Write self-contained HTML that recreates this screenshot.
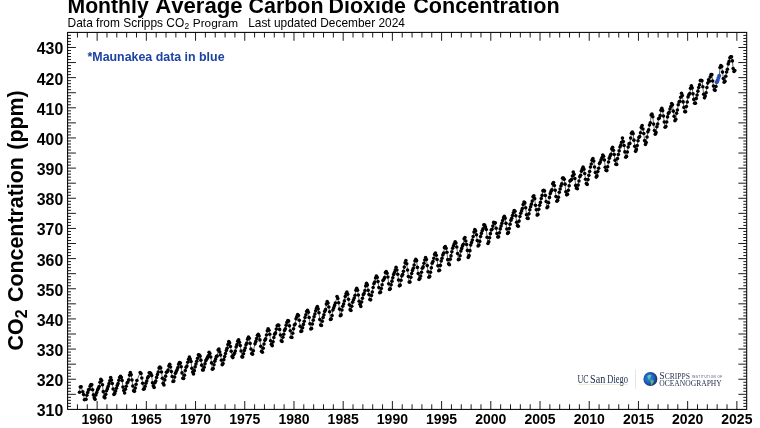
<!DOCTYPE html>
<html lang="en"><head><meta charset="utf-8"><title>Monthly Average Carbon Dioxide Concentration</title>
<style>html,body{margin:0;padding:0;background:#fff;overflow:hidden}svg{display:block}</style></head>
<body>
<svg width="760" height="428" viewBox="0 0 760 428">
<rect width="760" height="428" fill="#fff"/>
<path d="M77.44 409.40v-5.1M77.44 32.40v5.1M87.28 409.40v-5.1M87.28 32.40v5.1M97.13 409.40v-8.4M97.13 32.40v8.4M106.97 409.40v-5.1M106.97 32.40v5.1M116.81 409.40v-5.1M116.81 32.40v5.1M126.65 409.40v-5.1M126.65 32.40v5.1M136.49 409.40v-5.1M136.49 32.40v5.1M146.34 409.40v-8.4M146.34 32.40v8.4M156.18 409.40v-5.1M156.18 32.40v5.1M166.02 409.40v-5.1M166.02 32.40v5.1M175.86 409.40v-5.1M175.86 32.40v5.1M185.70 409.40v-5.1M185.70 32.40v5.1M195.55 409.40v-8.4M195.55 32.40v8.4M205.39 409.40v-5.1M205.39 32.40v5.1M215.23 409.40v-5.1M215.23 32.40v5.1M225.07 409.40v-5.1M225.07 32.40v5.1M234.91 409.40v-5.1M234.91 32.40v5.1M244.76 409.40v-8.4M244.76 32.40v8.4M254.60 409.40v-5.1M254.60 32.40v5.1M264.44 409.40v-5.1M264.44 32.40v5.1M274.28 409.40v-5.1M274.28 32.40v5.1M284.12 409.40v-5.1M284.12 32.40v5.1M293.97 409.40v-8.4M293.97 32.40v8.4M303.81 409.40v-5.1M303.81 32.40v5.1M313.65 409.40v-5.1M313.65 32.40v5.1M323.49 409.40v-5.1M323.49 32.40v5.1M333.33 409.40v-5.1M333.33 32.40v5.1M343.18 409.40v-8.4M343.18 32.40v8.4M353.02 409.40v-5.1M353.02 32.40v5.1M362.86 409.40v-5.1M362.86 32.40v5.1M372.70 409.40v-5.1M372.70 32.40v5.1M382.54 409.40v-5.1M382.54 32.40v5.1M392.39 409.40v-8.4M392.39 32.40v8.4M402.23 409.40v-5.1M402.23 32.40v5.1M412.07 409.40v-5.1M412.07 32.40v5.1M421.91 409.40v-5.1M421.91 32.40v5.1M431.76 409.40v-5.1M431.76 32.40v5.1M441.60 409.40v-8.4M441.60 32.40v8.4M451.44 409.40v-5.1M451.44 32.40v5.1M461.28 409.40v-5.1M461.28 32.40v5.1M471.12 409.40v-5.1M471.12 32.40v5.1M480.97 409.40v-5.1M480.97 32.40v5.1M490.81 409.40v-8.4M490.81 32.40v8.4M500.65 409.40v-5.1M500.65 32.40v5.1M510.49 409.40v-5.1M510.49 32.40v5.1M520.33 409.40v-5.1M520.33 32.40v5.1M530.18 409.40v-5.1M530.18 32.40v5.1M540.02 409.40v-8.4M540.02 32.40v8.4M549.86 409.40v-5.1M549.86 32.40v5.1M559.70 409.40v-5.1M559.70 32.40v5.1M569.54 409.40v-5.1M569.54 32.40v5.1M579.39 409.40v-5.1M579.39 32.40v5.1M589.23 409.40v-8.4M589.23 32.40v8.4M599.07 409.40v-5.1M599.07 32.40v5.1M608.91 409.40v-5.1M608.91 32.40v5.1M618.75 409.40v-5.1M618.75 32.40v5.1M628.60 409.40v-5.1M628.60 32.40v5.1M638.44 409.40v-8.4M638.44 32.40v8.4M648.28 409.40v-5.1M648.28 32.40v5.1M658.12 409.40v-5.1M658.12 32.40v5.1M667.96 409.40v-5.1M667.96 32.40v5.1M677.81 409.40v-5.1M677.81 32.40v5.1M687.65 409.40v-8.4M687.65 32.40v8.4M697.49 409.40v-5.1M697.49 32.40v5.1M707.33 409.40v-5.1M707.33 32.40v5.1M717.17 409.40v-5.1M717.17 32.40v5.1M727.02 409.40v-5.1M727.02 32.40v5.1M736.86 409.40v-8.4M736.86 32.40v8.4M67.60 406.38h3.4M746.70 406.38h-3.4M67.60 403.37h3.4M746.70 403.37h-3.4M67.60 400.35h3.4M746.70 400.35h-3.4M67.60 397.34h3.4M746.70 397.34h-3.4M67.60 394.32h8.3M746.70 394.32h-8.3M67.60 391.30h3.4M746.70 391.30h-3.4M67.60 388.29h3.4M746.70 388.29h-3.4M67.60 385.27h3.4M746.70 385.27h-3.4M67.60 382.26h3.4M746.70 382.26h-3.4M67.60 379.24h8.3M746.70 379.24h-8.3M67.60 376.22h3.4M746.70 376.22h-3.4M67.60 373.21h3.4M746.70 373.21h-3.4M67.60 370.19h3.4M746.70 370.19h-3.4M67.60 367.18h3.4M746.70 367.18h-3.4M67.60 364.16h8.3M746.70 364.16h-8.3M67.60 361.14h3.4M746.70 361.14h-3.4M67.60 358.13h3.4M746.70 358.13h-3.4M67.60 355.11h3.4M746.70 355.11h-3.4M67.60 352.10h3.4M746.70 352.10h-3.4M67.60 349.08h8.3M746.70 349.08h-8.3M67.60 346.06h3.4M746.70 346.06h-3.4M67.60 343.05h3.4M746.70 343.05h-3.4M67.60 340.03h3.4M746.70 340.03h-3.4M67.60 337.02h3.4M746.70 337.02h-3.4M67.60 334.00h8.3M746.70 334.00h-8.3M67.60 330.98h3.4M746.70 330.98h-3.4M67.60 327.97h3.4M746.70 327.97h-3.4M67.60 324.95h3.4M746.70 324.95h-3.4M67.60 321.94h3.4M746.70 321.94h-3.4M67.60 318.92h8.3M746.70 318.92h-8.3M67.60 315.90h3.4M746.70 315.90h-3.4M67.60 312.89h3.4M746.70 312.89h-3.4M67.60 309.87h3.4M746.70 309.87h-3.4M67.60 306.86h3.4M746.70 306.86h-3.4M67.60 303.84h8.3M746.70 303.84h-8.3M67.60 300.82h3.4M746.70 300.82h-3.4M67.60 297.81h3.4M746.70 297.81h-3.4M67.60 294.79h3.4M746.70 294.79h-3.4M67.60 291.78h3.4M746.70 291.78h-3.4M67.60 288.76h8.3M746.70 288.76h-8.3M67.60 285.74h3.4M746.70 285.74h-3.4M67.60 282.73h3.4M746.70 282.73h-3.4M67.60 279.71h3.4M746.70 279.71h-3.4M67.60 276.70h3.4M746.70 276.70h-3.4M67.60 273.68h8.3M746.70 273.68h-8.3M67.60 270.66h3.4M746.70 270.66h-3.4M67.60 267.65h3.4M746.70 267.65h-3.4M67.60 264.63h3.4M746.70 264.63h-3.4M67.60 261.62h3.4M746.70 261.62h-3.4M67.60 258.60h8.3M746.70 258.60h-8.3M67.60 255.58h3.4M746.70 255.58h-3.4M67.60 252.57h3.4M746.70 252.57h-3.4M67.60 249.55h3.4M746.70 249.55h-3.4M67.60 246.54h3.4M746.70 246.54h-3.4M67.60 243.52h8.3M746.70 243.52h-8.3M67.60 240.50h3.4M746.70 240.50h-3.4M67.60 237.49h3.4M746.70 237.49h-3.4M67.60 234.47h3.4M746.70 234.47h-3.4M67.60 231.46h3.4M746.70 231.46h-3.4M67.60 228.44h8.3M746.70 228.44h-8.3M67.60 225.42h3.4M746.70 225.42h-3.4M67.60 222.41h3.4M746.70 222.41h-3.4M67.60 219.39h3.4M746.70 219.39h-3.4M67.60 216.38h3.4M746.70 216.38h-3.4M67.60 213.36h8.3M746.70 213.36h-8.3M67.60 210.34h3.4M746.70 210.34h-3.4M67.60 207.33h3.4M746.70 207.33h-3.4M67.60 204.31h3.4M746.70 204.31h-3.4M67.60 201.30h3.4M746.70 201.30h-3.4M67.60 198.28h8.3M746.70 198.28h-8.3M67.60 195.26h3.4M746.70 195.26h-3.4M67.60 192.25h3.4M746.70 192.25h-3.4M67.60 189.23h3.4M746.70 189.23h-3.4M67.60 186.22h3.4M746.70 186.22h-3.4M67.60 183.20h8.3M746.70 183.20h-8.3M67.60 180.18h3.4M746.70 180.18h-3.4M67.60 177.17h3.4M746.70 177.17h-3.4M67.60 174.15h3.4M746.70 174.15h-3.4M67.60 171.14h3.4M746.70 171.14h-3.4M67.60 168.12h8.3M746.70 168.12h-8.3M67.60 165.10h3.4M746.70 165.10h-3.4M67.60 162.09h3.4M746.70 162.09h-3.4M67.60 159.07h3.4M746.70 159.07h-3.4M67.60 156.06h3.4M746.70 156.06h-3.4M67.60 153.04h8.3M746.70 153.04h-8.3M67.60 150.02h3.4M746.70 150.02h-3.4M67.60 147.01h3.4M746.70 147.01h-3.4M67.60 143.99h3.4M746.70 143.99h-3.4M67.60 140.98h3.4M746.70 140.98h-3.4M67.60 137.96h8.3M746.70 137.96h-8.3M67.60 134.94h3.4M746.70 134.94h-3.4M67.60 131.93h3.4M746.70 131.93h-3.4M67.60 128.91h3.4M746.70 128.91h-3.4M67.60 125.90h3.4M746.70 125.90h-3.4M67.60 122.88h8.3M746.70 122.88h-8.3M67.60 119.86h3.4M746.70 119.86h-3.4M67.60 116.85h3.4M746.70 116.85h-3.4M67.60 113.83h3.4M746.70 113.83h-3.4M67.60 110.82h3.4M746.70 110.82h-3.4M67.60 107.80h8.3M746.70 107.80h-8.3M67.60 104.78h3.4M746.70 104.78h-3.4M67.60 101.77h3.4M746.70 101.77h-3.4M67.60 98.75h3.4M746.70 98.75h-3.4M67.60 95.74h3.4M746.70 95.74h-3.4M67.60 92.72h8.3M746.70 92.72h-8.3M67.60 89.70h3.4M746.70 89.70h-3.4M67.60 86.69h3.4M746.70 86.69h-3.4M67.60 83.67h3.4M746.70 83.67h-3.4M67.60 80.66h3.4M746.70 80.66h-3.4M67.60 77.64h8.3M746.70 77.64h-8.3M67.60 74.62h3.4M746.70 74.62h-3.4M67.60 71.61h3.4M746.70 71.61h-3.4M67.60 68.59h3.4M746.70 68.59h-3.4M67.60 65.58h3.4M746.70 65.58h-3.4M67.60 62.56h8.3M746.70 62.56h-8.3M67.60 59.54h3.4M746.70 59.54h-3.4M67.60 56.53h3.4M746.70 56.53h-3.4M67.60 53.51h3.4M746.70 53.51h-3.4M67.60 50.50h3.4M746.70 50.50h-3.4M67.60 47.48h8.3M746.70 47.48h-8.3M67.60 44.46h3.4M746.70 44.46h-3.4M67.60 41.45h3.4M746.70 41.45h-3.4M67.60 38.43h3.4M746.70 38.43h-3.4M67.60 35.42h3.4M746.70 35.42h-3.4" stroke="#000" stroke-width="0.9" fill="none"/>
<rect x="67.6" y="32.4" width="679.10" height="377.00" fill="none" stroke="#000" stroke-width="1.05"/>
<path d="M79.49 392.18L80.31 386.93L81.13 386.78L82.77 391.73L83.59 394.53L84.41 399.75L86.05 399.36L86.87 395.32L87.69 392.60L88.51 389.92L89.33 389.34L90.15 386.15L90.97 384.43L91.79 384.82L92.62 389.68L93.44 394.92L94.26 397.85L95.08 399.36L95.90 394.89L96.72 392.57L97.54 390.04L98.36 388.41L99.18 386.57L100.00 382.20L100.82 379.18L101.64 380.51L102.46 384.79L103.28 391.64L104.10 396.88L104.92 397.85L105.74 394.35L106.56 390.76L107.38 388.65L108.20 386.21L109.02 383.67L109.84 380.87L110.66 377.52L111.48 379.96L112.30 383.55L113.12 388.95L113.94 394.38L114.76 393.39L115.58 391.03L116.40 388.29L117.22 385.48L118.04 383.61L118.86 380.21L119.68 377.52L120.50 376.22L121.32 377.43L122.14 380.45L122.96 387.08L123.78 390.52L124.60 393.05L125.42 389.25L126.24 386.24L127.06 383.07L127.88 382.04L128.70 379.69L129.52 375.11L130.34 372.51L131.16 374.84L131.98 380.05L132.80 386.00L133.62 390.70L134.44 391.36L135.26 388.11L136.08 384.22L136.90 380.57L140.18 372.57L141.01 373.57L141.83 377.97L142.65 383.19L143.47 389.22L144.29 388.71L145.11 386.24L145.93 383.16L146.75 380.99L147.57 377.94L148.39 376.59L149.21 372.85L150.03 372.76L150.85 373.63L151.67 375.62L152.49 382.68L153.31 385.85L154.13 387.41L154.95 382.71L155.77 381.05L156.59 377.40L157.41 374.47L158.23 372.06L159.05 368.11L159.87 367.00L160.69 367.96L161.51 372.03L162.33 378.18L163.15 383.37L163.97 385.00L164.79 379.90L165.61 376.16L166.43 372.24L167.25 371.73L168.07 370.10L168.89 365.97L169.71 364.22L170.53 366.93L171.35 371.61L172.17 376.50L172.99 381.50L173.81 381.08L174.63 377.10L175.45 373.36L176.27 371.55L177.09 369.77L177.91 367.54L178.73 364.13L179.55 362.50L180.37 363.10L181.19 366.78L182.01 372.91L182.83 378.24L183.65 378.52L184.47 375.29L185.29 370.52L186.11 367.24L186.93 365.94L187.75 362.29L188.57 359.18L189.40 357.04L190.22 359.06L191.04 361.54L191.86 368.23L192.68 372.09L193.50 373.90L194.32 370.67L195.14 366.87L195.96 364.04L196.78 361.23L197.60 358.37L198.42 354.75L199.24 354.93L200.06 356.17L200.88 360.15L201.70 365.13L202.52 369.95L203.34 370.04L204.16 367.18L204.98 363.83L205.80 360.66L206.62 359.15L207.44 357.65L208.26 355.81L209.08 352.37L209.90 353.45L210.72 357.07L211.54 362.89L212.36 369.14L213.18 368.53L214.00 364.82L214.82 361.14L215.64 358.88L216.46 356.26L217.28 355.93L218.10 349.95L218.92 348.93L219.74 351.88L220.56 355.02L221.38 360.21L222.20 364.67L223.02 363.59L223.84 359.67L224.66 356.50L225.48 353.54L226.30 350.44L227.12 348.21L227.94 344.62L228.76 341.66L229.58 342.90L230.40 346.52L231.22 351.19L232.04 356.62L232.86 357.62L233.68 354.69L234.50 353.21L235.32 351.10L236.14 346.97L236.96 344.65L237.79 341.15L238.61 339.82L239.43 342.35L240.25 345.58L241.07 350.95L241.89 356.86L242.71 357.04L243.53 353.78L244.35 350.41L245.17 347.93L245.99 344.86L246.81 342.99L247.63 339.16L248.45 337.17L249.27 338.28L250.09 343.41L250.91 348.93L251.73 353.45L252.55 354.15L253.37 350.68L255.01 343.86L255.83 341.42L256.65 338.58L257.47 335.33L258.29 334.42L259.11 336.05L259.93 339.91L260.75 346.31L261.57 351.22L262.39 352.31L263.21 348.21L264.03 344.04L264.85 340.33L265.67 338.86L266.49 334.97L267.31 330.83L268.13 328.81L268.95 330.23L269.77 334.27L270.59 340.82L271.41 344.34L272.23 345.67L273.05 341.87L273.87 337.53L274.69 334.15L275.51 332.88L276.33 329.11L277.15 325.74L277.97 324.98L278.79 325.34L279.61 329.42L280.43 335.03L281.25 340.79L282.07 341.45L282.89 337.32L283.71 334.21L284.53 330.38L285.35 328.75L286.18 325.13L287.00 322.36L287.82 320.58L288.64 321.12L289.46 325.83L290.28 330.77L291.10 337.32L291.92 337.47L292.74 333.19L293.56 328.84L294.38 324.98L295.20 323.93L296.02 318.74L296.84 316.66L297.66 314.58L298.48 315.45L299.30 320.31L300.12 326.22L300.94 331.38L301.76 331.01L302.58 327.73L303.40 324.38L304.22 321.30L305.04 317.56L305.86 314.82L306.68 311.44L307.50 310.20L308.32 312.19L309.14 317.50L309.96 323.72L310.78 328.96L311.60 328.48L312.42 323.93L313.24 320.16L314.06 316.75L314.88 314.12L315.70 310.84L316.52 308.24L317.34 306.52L318.16 308.88L318.98 312.80L319.80 319.52L320.62 325.07L321.44 325.43L322.26 321.21L323.08 317.50L323.90 314.85L324.72 311.38L325.54 309.63L326.36 304.08L327.18 301.64L328.00 302.97L328.82 306.98L329.64 311.80L330.46 319.40L331.28 319.01L332.10 315.51L332.92 309.96L333.74 307.85L334.57 305.41L335.39 303.06L337.03 296.60L337.85 298.50L338.67 302.72L339.49 309.09L340.31 315.75L341.13 314.91L341.95 310.02L342.77 306.28L343.59 304.02L344.41 300.91L345.23 296.60L346.05 293.83L346.87 292.11L347.69 294.13L348.51 299.23L349.33 304.87L350.15 309.66L350.97 310.57L351.79 306.22L352.61 302.24L353.43 300.04L354.25 298.02L355.07 295.30L355.89 290.21L356.71 288.22L357.53 290.21L358.35 295.06L359.17 301.19L359.99 304.35L360.81 306.43L361.63 301.94L362.45 298.20L363.27 294.82L364.09 293.46L364.91 290.63L365.73 285.89L366.55 283.30L367.37 285.08L368.19 290.33L369.01 294.58L369.83 299.56L370.65 299.83L371.47 295.43L372.29 291.99L373.11 287.55L373.93 283.66L374.75 282.12L375.57 278.02L376.39 276.12L377.21 277.39L378.03 281.61L378.85 287.49L379.67 292.68L380.49 292.17L381.31 288.58L382.13 284.75L382.96 280.47L383.78 279.50L384.60 277.66L385.42 272.44L386.24 271.66L387.06 273.32L387.88 277.00L388.70 283.72L389.52 289.39L390.34 288.82L391.16 284.87L391.98 281.16L392.80 277.75L393.62 274.58L394.44 272.53L395.26 270.09L396.08 267.20L396.90 270.00L397.72 274.22L398.54 279.98L399.36 285.83L400.18 285.17L401.00 280.19L401.82 276.03L402.64 274.46L403.46 271.33L404.28 267.11L405.10 262.73L405.92 260.50L406.74 263.82L407.56 270.03L408.38 276.48L409.20 282.12L410.02 281.94L410.84 277.33L411.66 273.56L412.48 270.57L413.30 268.31L414.12 265.02L414.94 260.95L415.76 259.41L416.58 260.65L417.40 267.38L418.22 273.47L419.04 279.44L419.86 278.57L420.68 275.97L421.50 272.23L422.32 268.31L423.14 266.89L423.96 263.21L424.78 259.93L425.60 257.45L426.42 259.50L427.24 265.60L428.06 271.78L428.88 277.24L429.70 276.39L430.52 272.32L431.34 267.86L432.17 263.15L432.99 261.50L433.81 258.30L434.63 254.38L435.45 253.11L436.27 255.31L437.09 259.50L437.91 265.72L438.73 270.69L439.55 270.21L440.37 265.42L441.19 261.01L442.01 258.21L442.83 255.04L443.65 253.14L444.47 247.65L445.29 246.63L446.11 248.19L446.93 252.30L447.75 259.66L448.57 263.85L449.39 264.78L450.21 259.32L451.03 255.92L451.85 251.84L452.67 248.22L453.49 245.90L454.31 243.79L455.13 241.71L455.95 243.04L456.77 246.99L457.59 253.50L458.41 259.63L459.23 259.20L460.05 255.73L460.87 250.97L461.69 248.41L462.51 245.90L463.33 244.24L464.15 238.85L464.97 237.52L465.79 241.02L466.61 244.52L467.43 250.40L468.25 257.42L469.07 255.64L469.89 250.64L470.71 245.06L471.53 242.43L472.35 240.02L473.17 236.55L473.99 232.09L474.81 229.44L475.63 231.06L476.45 234.71L477.27 240.59L478.09 245.96L478.91 244.94L479.73 241.41L480.56 236.55L481.38 233.39L482.20 230.70L483.02 228.86L483.84 224.91L484.66 225.00L485.48 226.99L486.30 229.56L487.12 237.25L487.94 243.55L488.76 241.86L489.58 237.79L490.40 233.63L491.22 230.04L492.04 229.28L492.86 226.09L493.68 222.41L494.50 223.13L495.32 222.77L496.14 228.32L496.96 233.54L497.78 236.95L498.60 236.85L499.42 232.81L500.24 228.89L501.06 226.12L501.88 223.34L502.70 220.57L503.52 217.73L504.34 216.29L505.16 218.22L505.98 223.34L506.80 229.07L507.62 233.39L508.44 232.57L509.26 228.62L510.08 224.16L510.90 220.27L511.72 218.25L512.54 215.47L513.36 212.76L514.18 210.52L515.00 211.25L515.82 215.80L516.64 222.32L517.46 225.64L518.28 226.24L519.10 221.11L519.92 216.47L520.74 213.18L521.56 210.89L522.38 208.44L523.20 204.58L524.02 201.96L524.84 202.92L525.66 207.69L526.48 214.69L527.30 218.34L528.12 218.40L528.95 213.84L529.77 209.83L530.59 206.79L531.41 204.16L532.23 201.12L533.05 196.68L533.87 195.87L534.69 198.67L535.51 205.37L536.33 209.77L537.15 215.08L537.97 214.45L538.79 209.32L539.61 205.25L540.43 202.38L541.25 198.55L542.07 195.41L542.89 190.83L543.71 190.35L544.53 191.07L545.35 195.51L546.17 201.54L546.99 207.69L547.81 206.79L548.63 202.71L549.45 197.41L550.27 193.58L551.09 191.13L551.91 189.68L552.73 183.83L553.55 182.57L554.37 185.52L555.19 190.32L556.01 196.50L556.83 201.21L557.65 200.36L558.47 197.28L559.29 192.25L560.11 189.02L560.93 185.97L561.75 183.92L562.57 178.13L563.39 177.95L564.21 179.34L565.03 184.17L565.85 191.74L566.67 194.84L567.49 194.36L568.31 190.35L569.13 185.82L569.95 181.09L570.77 180.18L571.59 179.55L572.41 175.99L573.23 171.98L574.05 174.33L574.87 178.56L575.69 185.40L576.51 188.15L577.34 188.72L578.16 185.10L578.98 180.97L579.80 176.81L580.62 175.18L581.44 171.14L582.26 168.93L583.08 167.15L583.90 169.15L584.72 173.52L585.54 179.31L586.36 183.44L587.18 184.38L588.00 179.58L588.82 175.36L589.64 171.47L590.46 166.97L591.28 164.05L592.10 160.16L592.92 158.53L593.74 161.09L594.56 166.97L595.38 172.55L596.20 177.08L597.02 175.90L597.84 171.59L598.66 168.21L599.48 163.57L600.30 161.97L601.12 159.74L601.94 157.78L602.76 154.94L603.58 156.30L604.40 160.01L605.22 167.19L606.04 170.35L606.86 170.59L607.68 166.73L608.50 161.97L609.32 158.17L610.14 155.94L610.96 154.31L611.78 148.94L612.60 147.25L613.42 150.36L614.24 154.43L615.06 160.37L615.88 164.23L616.70 164.41L617.52 158.59L618.34 154.49L619.16 150.84L619.98 147.07L620.80 145.17L621.62 142.21L622.44 138.08L623.26 141.61L624.08 145.50L624.90 151.89L625.73 157.17L626.55 156.42L627.37 152.01L628.19 146.95L629.01 143.90L629.83 143.42L630.65 138.11L631.47 133.26L632.29 132.05L633.11 133.65L633.93 140.13L634.75 146.37L635.57 151.35L636.39 149.39L637.21 145.62L638.03 140.70L638.85 137.48L639.67 136.57L640.49 132.77L641.31 127.52L642.13 125.47L642.95 128.97L643.77 133.47L644.59 140.64L645.41 144.57L646.23 142.57L647.05 136.93L647.87 131.84L648.69 129.70L649.51 124.99L650.33 122.73L651.15 114.95L651.97 114.13L652.79 116.82L653.61 124.12L654.43 130.57L655.25 134.25L656.07 132.62L656.89 126.71L657.71 124.00L658.53 118.81L659.35 117.93L660.17 115.64L660.99 110.15L661.81 108.19L662.63 110.64L663.45 115.94L664.27 121.95L665.09 127.25L665.91 126.47L666.73 121.98L667.55 116.88L668.37 113.41L669.19 112.32L670.01 109.04L670.83 106.53L671.65 103.52L672.47 104.87L673.29 111.15L674.12 116.34L674.94 120.80L675.76 119.32L676.58 113.23L677.40 110.06L678.22 104.75L679.04 101.98L679.86 101.32L680.68 97.24L681.50 93.20L682.32 95.43L683.14 101.92L683.96 107.41L684.78 111.66L685.60 111.69L686.42 106.44L687.24 101.95L688.06 96.91L688.88 94.71L689.70 93.50L690.52 88.35L691.34 85.75L692.16 87.89L692.98 93.87L693.80 99.42L694.62 103.22L695.44 103.25L696.26 98.39L697.08 94.95L697.90 91.15L698.72 87.44L699.54 84.76L700.36 80.51L701.18 80.26L702.00 80.84L702.82 86.81L703.64 94.32L704.46 97.85L705.28 95.95L706.10 92.69L706.92 87.56L707.74 83.10L708.56 79.81L709.38 81.23L710.20 76.95L711.02 74.65L711.84 74.65L712.66 80.96L713.48 86.11L714.30 89.85L715.12 90.37L715.94 86.54L716.76 82.16L717.58 80.51L718.40 78.09L719.22 75.83L720.04 67.51L720.86 65.58L721.68 66.54L722.51 72.12L723.33 78.61L724.15 82.13L724.97 81.20L725.79 76.25L726.61 72.03L727.43 69.20L728.25 63.92L729.07 61.41L729.89 57.82L730.71 56.83L731.53 56.80L732.35 60.90L733.17 68.62L733.99 71.52L734.81 70.46" stroke="#000" stroke-width="0.6" fill="none"/>
<g fill="#000">
<circle cx="79.49" cy="392.18" r="1.8"/>
<circle cx="80.31" cy="386.93" r="1.8"/>
<circle cx="81.13" cy="386.78" r="1.8"/>
<circle cx="82.77" cy="391.73" r="1.8"/>
<circle cx="83.59" cy="394.53" r="1.8"/>
<circle cx="84.41" cy="399.75" r="1.8"/>
<circle cx="86.05" cy="399.36" r="1.8"/>
<circle cx="86.87" cy="395.32" r="1.8"/>
<circle cx="87.69" cy="392.60" r="1.8"/>
<circle cx="88.51" cy="389.92" r="1.8"/>
<circle cx="89.33" cy="389.34" r="1.8"/>
<circle cx="90.15" cy="386.15" r="1.8"/>
<circle cx="90.97" cy="384.43" r="1.8"/>
<circle cx="91.79" cy="384.82" r="1.8"/>
<circle cx="92.62" cy="389.68" r="1.8"/>
<circle cx="93.44" cy="394.92" r="1.8"/>
<circle cx="94.26" cy="397.85" r="1.8"/>
<circle cx="95.08" cy="399.36" r="1.8"/>
<circle cx="95.90" cy="394.89" r="1.8"/>
<circle cx="96.72" cy="392.57" r="1.8"/>
<circle cx="97.54" cy="390.04" r="1.8"/>
<circle cx="98.36" cy="388.41" r="1.8"/>
<circle cx="99.18" cy="386.57" r="1.8"/>
<circle cx="100.00" cy="382.20" r="1.8"/>
<circle cx="100.82" cy="379.18" r="1.8"/>
<circle cx="101.64" cy="380.51" r="1.8"/>
<circle cx="102.46" cy="384.79" r="1.8"/>
<circle cx="103.28" cy="391.64" r="1.8"/>
<circle cx="104.10" cy="396.88" r="1.8"/>
<circle cx="104.92" cy="397.85" r="1.8"/>
<circle cx="105.74" cy="394.35" r="1.8"/>
<circle cx="106.56" cy="390.76" r="1.8"/>
<circle cx="107.38" cy="388.65" r="1.8"/>
<circle cx="108.20" cy="386.21" r="1.8"/>
<circle cx="109.02" cy="383.67" r="1.8"/>
<circle cx="109.84" cy="380.87" r="1.8"/>
<circle cx="110.66" cy="377.52" r="1.8"/>
<circle cx="111.48" cy="379.96" r="1.8"/>
<circle cx="112.30" cy="383.55" r="1.8"/>
<circle cx="113.12" cy="388.95" r="1.8"/>
<circle cx="113.94" cy="394.38" r="1.8"/>
<circle cx="114.76" cy="393.39" r="1.8"/>
<circle cx="115.58" cy="391.03" r="1.8"/>
<circle cx="116.40" cy="388.29" r="1.8"/>
<circle cx="117.22" cy="385.48" r="1.8"/>
<circle cx="118.04" cy="383.61" r="1.8"/>
<circle cx="118.86" cy="380.21" r="1.8"/>
<circle cx="119.68" cy="377.52" r="1.8"/>
<circle cx="120.50" cy="376.22" r="1.8"/>
<circle cx="121.32" cy="377.43" r="1.8"/>
<circle cx="122.14" cy="380.45" r="1.8"/>
<circle cx="122.96" cy="387.08" r="1.8"/>
<circle cx="123.78" cy="390.52" r="1.8"/>
<circle cx="124.60" cy="393.05" r="1.8"/>
<circle cx="125.42" cy="389.25" r="1.8"/>
<circle cx="126.24" cy="386.24" r="1.8"/>
<circle cx="127.06" cy="383.07" r="1.8"/>
<circle cx="127.88" cy="382.04" r="1.8"/>
<circle cx="128.70" cy="379.69" r="1.8"/>
<circle cx="129.52" cy="375.11" r="1.8"/>
<circle cx="130.34" cy="372.51" r="1.8"/>
<circle cx="131.16" cy="374.84" r="1.8"/>
<circle cx="131.98" cy="380.05" r="1.8"/>
<circle cx="132.80" cy="386.00" r="1.8"/>
<circle cx="133.62" cy="390.70" r="1.8"/>
<circle cx="134.44" cy="391.36" r="1.8"/>
<circle cx="135.26" cy="388.11" r="1.8"/>
<circle cx="136.08" cy="384.22" r="1.8"/>
<circle cx="136.90" cy="380.57" r="1.8"/>
<circle cx="140.18" cy="372.57" r="1.8"/>
<circle cx="141.01" cy="373.57" r="1.8"/>
<circle cx="141.83" cy="377.97" r="1.8"/>
<circle cx="142.65" cy="383.19" r="1.8"/>
<circle cx="143.47" cy="389.22" r="1.8"/>
<circle cx="144.29" cy="388.71" r="1.8"/>
<circle cx="145.11" cy="386.24" r="1.8"/>
<circle cx="145.93" cy="383.16" r="1.8"/>
<circle cx="146.75" cy="380.99" r="1.8"/>
<circle cx="147.57" cy="377.94" r="1.8"/>
<circle cx="148.39" cy="376.59" r="1.8"/>
<circle cx="149.21" cy="372.85" r="1.8"/>
<circle cx="150.03" cy="372.76" r="1.8"/>
<circle cx="150.85" cy="373.63" r="1.8"/>
<circle cx="151.67" cy="375.62" r="1.8"/>
<circle cx="152.49" cy="382.68" r="1.8"/>
<circle cx="153.31" cy="385.85" r="1.8"/>
<circle cx="154.13" cy="387.41" r="1.8"/>
<circle cx="154.95" cy="382.71" r="1.8"/>
<circle cx="155.77" cy="381.05" r="1.8"/>
<circle cx="156.59" cy="377.40" r="1.8"/>
<circle cx="157.41" cy="374.47" r="1.8"/>
<circle cx="158.23" cy="372.06" r="1.8"/>
<circle cx="159.05" cy="368.11" r="1.8"/>
<circle cx="159.87" cy="367.00" r="1.8"/>
<circle cx="160.69" cy="367.96" r="1.8"/>
<circle cx="161.51" cy="372.03" r="1.8"/>
<circle cx="162.33" cy="378.18" r="1.8"/>
<circle cx="163.15" cy="383.37" r="1.8"/>
<circle cx="163.97" cy="385.00" r="1.8"/>
<circle cx="164.79" cy="379.90" r="1.8"/>
<circle cx="165.61" cy="376.16" r="1.8"/>
<circle cx="166.43" cy="372.24" r="1.8"/>
<circle cx="167.25" cy="371.73" r="1.8"/>
<circle cx="168.07" cy="370.10" r="1.8"/>
<circle cx="168.89" cy="365.97" r="1.8"/>
<circle cx="169.71" cy="364.22" r="1.8"/>
<circle cx="170.53" cy="366.93" r="1.8"/>
<circle cx="171.35" cy="371.61" r="1.8"/>
<circle cx="172.17" cy="376.50" r="1.8"/>
<circle cx="172.99" cy="381.50" r="1.8"/>
<circle cx="173.81" cy="381.08" r="1.8"/>
<circle cx="174.63" cy="377.10" r="1.8"/>
<circle cx="175.45" cy="373.36" r="1.8"/>
<circle cx="176.27" cy="371.55" r="1.8"/>
<circle cx="177.09" cy="369.77" r="1.8"/>
<circle cx="177.91" cy="367.54" r="1.8"/>
<circle cx="178.73" cy="364.13" r="1.8"/>
<circle cx="179.55" cy="362.50" r="1.8"/>
<circle cx="180.37" cy="363.10" r="1.8"/>
<circle cx="181.19" cy="366.78" r="1.8"/>
<circle cx="182.01" cy="372.91" r="1.8"/>
<circle cx="182.83" cy="378.24" r="1.8"/>
<circle cx="183.65" cy="378.52" r="1.8"/>
<circle cx="184.47" cy="375.29" r="1.8"/>
<circle cx="185.29" cy="370.52" r="1.8"/>
<circle cx="186.11" cy="367.24" r="1.8"/>
<circle cx="186.93" cy="365.94" r="1.8"/>
<circle cx="187.75" cy="362.29" r="1.8"/>
<circle cx="188.57" cy="359.18" r="1.8"/>
<circle cx="189.40" cy="357.04" r="1.8"/>
<circle cx="190.22" cy="359.06" r="1.8"/>
<circle cx="191.04" cy="361.54" r="1.8"/>
<circle cx="191.86" cy="368.23" r="1.8"/>
<circle cx="192.68" cy="372.09" r="1.8"/>
<circle cx="193.50" cy="373.90" r="1.8"/>
<circle cx="194.32" cy="370.67" r="1.8"/>
<circle cx="195.14" cy="366.87" r="1.8"/>
<circle cx="195.96" cy="364.04" r="1.8"/>
<circle cx="196.78" cy="361.23" r="1.8"/>
<circle cx="197.60" cy="358.37" r="1.8"/>
<circle cx="198.42" cy="354.75" r="1.8"/>
<circle cx="199.24" cy="354.93" r="1.8"/>
<circle cx="200.06" cy="356.17" r="1.8"/>
<circle cx="200.88" cy="360.15" r="1.8"/>
<circle cx="201.70" cy="365.13" r="1.8"/>
<circle cx="202.52" cy="369.95" r="1.8"/>
<circle cx="203.34" cy="370.04" r="1.8"/>
<circle cx="204.16" cy="367.18" r="1.8"/>
<circle cx="204.98" cy="363.83" r="1.8"/>
<circle cx="205.80" cy="360.66" r="1.8"/>
<circle cx="206.62" cy="359.15" r="1.8"/>
<circle cx="207.44" cy="357.65" r="1.8"/>
<circle cx="208.26" cy="355.81" r="1.8"/>
<circle cx="209.08" cy="352.37" r="1.8"/>
<circle cx="209.90" cy="353.45" r="1.8"/>
<circle cx="210.72" cy="357.07" r="1.8"/>
<circle cx="211.54" cy="362.89" r="1.8"/>
<circle cx="212.36" cy="369.14" r="1.8"/>
<circle cx="213.18" cy="368.53" r="1.8"/>
<circle cx="214.00" cy="364.82" r="1.8"/>
<circle cx="214.82" cy="361.14" r="1.8"/>
<circle cx="215.64" cy="358.88" r="1.8"/>
<circle cx="216.46" cy="356.26" r="1.8"/>
<circle cx="217.28" cy="355.93" r="1.8"/>
<circle cx="218.10" cy="349.95" r="1.8"/>
<circle cx="218.92" cy="348.93" r="1.8"/>
<circle cx="219.74" cy="351.88" r="1.8"/>
<circle cx="220.56" cy="355.02" r="1.8"/>
<circle cx="221.38" cy="360.21" r="1.8"/>
<circle cx="222.20" cy="364.67" r="1.8"/>
<circle cx="223.02" cy="363.59" r="1.8"/>
<circle cx="223.84" cy="359.67" r="1.8"/>
<circle cx="224.66" cy="356.50" r="1.8"/>
<circle cx="225.48" cy="353.54" r="1.8"/>
<circle cx="226.30" cy="350.44" r="1.8"/>
<circle cx="227.12" cy="348.21" r="1.8"/>
<circle cx="227.94" cy="344.62" r="1.8"/>
<circle cx="228.76" cy="341.66" r="1.8"/>
<circle cx="229.58" cy="342.90" r="1.8"/>
<circle cx="230.40" cy="346.52" r="1.8"/>
<circle cx="231.22" cy="351.19" r="1.8"/>
<circle cx="232.04" cy="356.62" r="1.8"/>
<circle cx="232.86" cy="357.62" r="1.8"/>
<circle cx="233.68" cy="354.69" r="1.8"/>
<circle cx="234.50" cy="353.21" r="1.8"/>
<circle cx="235.32" cy="351.10" r="1.8"/>
<circle cx="236.14" cy="346.97" r="1.8"/>
<circle cx="236.96" cy="344.65" r="1.8"/>
<circle cx="237.79" cy="341.15" r="1.8"/>
<circle cx="238.61" cy="339.82" r="1.8"/>
<circle cx="239.43" cy="342.35" r="1.8"/>
<circle cx="240.25" cy="345.58" r="1.8"/>
<circle cx="241.07" cy="350.95" r="1.8"/>
<circle cx="241.89" cy="356.86" r="1.8"/>
<circle cx="242.71" cy="357.04" r="1.8"/>
<circle cx="243.53" cy="353.78" r="1.8"/>
<circle cx="244.35" cy="350.41" r="1.8"/>
<circle cx="245.17" cy="347.93" r="1.8"/>
<circle cx="245.99" cy="344.86" r="1.8"/>
<circle cx="246.81" cy="342.99" r="1.8"/>
<circle cx="247.63" cy="339.16" r="1.8"/>
<circle cx="248.45" cy="337.17" r="1.8"/>
<circle cx="249.27" cy="338.28" r="1.8"/>
<circle cx="250.09" cy="343.41" r="1.8"/>
<circle cx="250.91" cy="348.93" r="1.8"/>
<circle cx="251.73" cy="353.45" r="1.8"/>
<circle cx="252.55" cy="354.15" r="1.8"/>
<circle cx="253.37" cy="350.68" r="1.8"/>
<circle cx="255.01" cy="343.86" r="1.8"/>
<circle cx="255.83" cy="341.42" r="1.8"/>
<circle cx="256.65" cy="338.58" r="1.8"/>
<circle cx="257.47" cy="335.33" r="1.8"/>
<circle cx="258.29" cy="334.42" r="1.8"/>
<circle cx="259.11" cy="336.05" r="1.8"/>
<circle cx="259.93" cy="339.91" r="1.8"/>
<circle cx="260.75" cy="346.31" r="1.8"/>
<circle cx="261.57" cy="351.22" r="1.8"/>
<circle cx="262.39" cy="352.31" r="1.8"/>
<circle cx="263.21" cy="348.21" r="1.8"/>
<circle cx="264.03" cy="344.04" r="1.8"/>
<circle cx="264.85" cy="340.33" r="1.8"/>
<circle cx="265.67" cy="338.86" r="1.8"/>
<circle cx="266.49" cy="334.97" r="1.8"/>
<circle cx="267.31" cy="330.83" r="1.8"/>
<circle cx="268.13" cy="328.81" r="1.8"/>
<circle cx="268.95" cy="330.23" r="1.8"/>
<circle cx="269.77" cy="334.27" r="1.8"/>
<circle cx="270.59" cy="340.82" r="1.8"/>
<circle cx="271.41" cy="344.34" r="1.8"/>
<circle cx="272.23" cy="345.67" r="1.8"/>
<circle cx="273.05" cy="341.87" r="1.8"/>
<circle cx="273.87" cy="337.53" r="1.8"/>
<circle cx="274.69" cy="334.15" r="1.8"/>
<circle cx="275.51" cy="332.88" r="1.8"/>
<circle cx="276.33" cy="329.11" r="1.8"/>
<circle cx="277.15" cy="325.74" r="1.8"/>
<circle cx="277.97" cy="324.98" r="1.8"/>
<circle cx="278.79" cy="325.34" r="1.8"/>
<circle cx="279.61" cy="329.42" r="1.8"/>
<circle cx="280.43" cy="335.03" r="1.8"/>
<circle cx="281.25" cy="340.79" r="1.8"/>
<circle cx="282.07" cy="341.45" r="1.8"/>
<circle cx="282.89" cy="337.32" r="1.8"/>
<circle cx="283.71" cy="334.21" r="1.8"/>
<circle cx="284.53" cy="330.38" r="1.8"/>
<circle cx="285.35" cy="328.75" r="1.8"/>
<circle cx="286.18" cy="325.13" r="1.8"/>
<circle cx="287.00" cy="322.36" r="1.8"/>
<circle cx="287.82" cy="320.58" r="1.8"/>
<circle cx="288.64" cy="321.12" r="1.8"/>
<circle cx="289.46" cy="325.83" r="1.8"/>
<circle cx="290.28" cy="330.77" r="1.8"/>
<circle cx="291.10" cy="337.32" r="1.8"/>
<circle cx="291.92" cy="337.47" r="1.8"/>
<circle cx="292.74" cy="333.19" r="1.8"/>
<circle cx="293.56" cy="328.84" r="1.8"/>
<circle cx="294.38" cy="324.98" r="1.8"/>
<circle cx="295.20" cy="323.93" r="1.8"/>
<circle cx="296.02" cy="318.74" r="1.8"/>
<circle cx="296.84" cy="316.66" r="1.8"/>
<circle cx="297.66" cy="314.58" r="1.8"/>
<circle cx="298.48" cy="315.45" r="1.8"/>
<circle cx="299.30" cy="320.31" r="1.8"/>
<circle cx="300.12" cy="326.22" r="1.8"/>
<circle cx="300.94" cy="331.38" r="1.8"/>
<circle cx="301.76" cy="331.01" r="1.8"/>
<circle cx="302.58" cy="327.73" r="1.8"/>
<circle cx="303.40" cy="324.38" r="1.8"/>
<circle cx="304.22" cy="321.30" r="1.8"/>
<circle cx="305.04" cy="317.56" r="1.8"/>
<circle cx="305.86" cy="314.82" r="1.8"/>
<circle cx="306.68" cy="311.44" r="1.8"/>
<circle cx="307.50" cy="310.20" r="1.8"/>
<circle cx="308.32" cy="312.19" r="1.8"/>
<circle cx="309.14" cy="317.50" r="1.8"/>
<circle cx="309.96" cy="323.72" r="1.8"/>
<circle cx="310.78" cy="328.96" r="1.8"/>
<circle cx="311.60" cy="328.48" r="1.8"/>
<circle cx="312.42" cy="323.93" r="1.8"/>
<circle cx="313.24" cy="320.16" r="1.8"/>
<circle cx="314.06" cy="316.75" r="1.8"/>
<circle cx="314.88" cy="314.12" r="1.8"/>
<circle cx="315.70" cy="310.84" r="1.8"/>
<circle cx="316.52" cy="308.24" r="1.8"/>
<circle cx="317.34" cy="306.52" r="1.8"/>
<circle cx="318.16" cy="308.88" r="1.8"/>
<circle cx="318.98" cy="312.80" r="1.8"/>
<circle cx="319.80" cy="319.52" r="1.8"/>
<circle cx="320.62" cy="325.07" r="1.8"/>
<circle cx="321.44" cy="325.43" r="1.8"/>
<circle cx="322.26" cy="321.21" r="1.8"/>
<circle cx="323.08" cy="317.50" r="1.8"/>
<circle cx="323.90" cy="314.85" r="1.8"/>
<circle cx="324.72" cy="311.38" r="1.8"/>
<circle cx="325.54" cy="309.63" r="1.8"/>
<circle cx="326.36" cy="304.08" r="1.8"/>
<circle cx="327.18" cy="301.64" r="1.8"/>
<circle cx="328.00" cy="302.97" r="1.8"/>
<circle cx="328.82" cy="306.98" r="1.8"/>
<circle cx="329.64" cy="311.80" r="1.8"/>
<circle cx="330.46" cy="319.40" r="1.8"/>
<circle cx="331.28" cy="319.01" r="1.8"/>
<circle cx="332.10" cy="315.51" r="1.8"/>
<circle cx="332.92" cy="309.96" r="1.8"/>
<circle cx="333.74" cy="307.85" r="1.8"/>
<circle cx="334.57" cy="305.41" r="1.8"/>
<circle cx="335.39" cy="303.06" r="1.8"/>
<circle cx="337.03" cy="296.60" r="1.8"/>
<circle cx="337.85" cy="298.50" r="1.8"/>
<circle cx="338.67" cy="302.72" r="1.8"/>
<circle cx="339.49" cy="309.09" r="1.8"/>
<circle cx="340.31" cy="315.75" r="1.8"/>
<circle cx="341.13" cy="314.91" r="1.8"/>
<circle cx="341.95" cy="310.02" r="1.8"/>
<circle cx="342.77" cy="306.28" r="1.8"/>
<circle cx="343.59" cy="304.02" r="1.8"/>
<circle cx="344.41" cy="300.91" r="1.8"/>
<circle cx="345.23" cy="296.60" r="1.8"/>
<circle cx="346.05" cy="293.83" r="1.8"/>
<circle cx="346.87" cy="292.11" r="1.8"/>
<circle cx="347.69" cy="294.13" r="1.8"/>
<circle cx="348.51" cy="299.23" r="1.8"/>
<circle cx="349.33" cy="304.87" r="1.8"/>
<circle cx="350.15" cy="309.66" r="1.8"/>
<circle cx="350.97" cy="310.57" r="1.8"/>
<circle cx="351.79" cy="306.22" r="1.8"/>
<circle cx="352.61" cy="302.24" r="1.8"/>
<circle cx="353.43" cy="300.04" r="1.8"/>
<circle cx="354.25" cy="298.02" r="1.8"/>
<circle cx="355.07" cy="295.30" r="1.8"/>
<circle cx="355.89" cy="290.21" r="1.8"/>
<circle cx="356.71" cy="288.22" r="1.8"/>
<circle cx="357.53" cy="290.21" r="1.8"/>
<circle cx="358.35" cy="295.06" r="1.8"/>
<circle cx="359.17" cy="301.19" r="1.8"/>
<circle cx="359.99" cy="304.35" r="1.8"/>
<circle cx="360.81" cy="306.43" r="1.8"/>
<circle cx="361.63" cy="301.94" r="1.8"/>
<circle cx="362.45" cy="298.20" r="1.8"/>
<circle cx="363.27" cy="294.82" r="1.8"/>
<circle cx="364.09" cy="293.46" r="1.8"/>
<circle cx="364.91" cy="290.63" r="1.8"/>
<circle cx="365.73" cy="285.89" r="1.8"/>
<circle cx="366.55" cy="283.30" r="1.8"/>
<circle cx="367.37" cy="285.08" r="1.8"/>
<circle cx="368.19" cy="290.33" r="1.8"/>
<circle cx="369.01" cy="294.58" r="1.8"/>
<circle cx="369.83" cy="299.56" r="1.8"/>
<circle cx="370.65" cy="299.83" r="1.8"/>
<circle cx="371.47" cy="295.43" r="1.8"/>
<circle cx="372.29" cy="291.99" r="1.8"/>
<circle cx="373.11" cy="287.55" r="1.8"/>
<circle cx="373.93" cy="283.66" r="1.8"/>
<circle cx="374.75" cy="282.12" r="1.8"/>
<circle cx="375.57" cy="278.02" r="1.8"/>
<circle cx="376.39" cy="276.12" r="1.8"/>
<circle cx="377.21" cy="277.39" r="1.8"/>
<circle cx="378.03" cy="281.61" r="1.8"/>
<circle cx="378.85" cy="287.49" r="1.8"/>
<circle cx="379.67" cy="292.68" r="1.8"/>
<circle cx="380.49" cy="292.17" r="1.8"/>
<circle cx="381.31" cy="288.58" r="1.8"/>
<circle cx="382.13" cy="284.75" r="1.8"/>
<circle cx="382.96" cy="280.47" r="1.8"/>
<circle cx="383.78" cy="279.50" r="1.8"/>
<circle cx="384.60" cy="277.66" r="1.8"/>
<circle cx="385.42" cy="272.44" r="1.8"/>
<circle cx="386.24" cy="271.66" r="1.8"/>
<circle cx="387.06" cy="273.32" r="1.8"/>
<circle cx="387.88" cy="277.00" r="1.8"/>
<circle cx="388.70" cy="283.72" r="1.8"/>
<circle cx="389.52" cy="289.39" r="1.8"/>
<circle cx="390.34" cy="288.82" r="1.8"/>
<circle cx="391.16" cy="284.87" r="1.8"/>
<circle cx="391.98" cy="281.16" r="1.8"/>
<circle cx="392.80" cy="277.75" r="1.8"/>
<circle cx="393.62" cy="274.58" r="1.8"/>
<circle cx="394.44" cy="272.53" r="1.8"/>
<circle cx="395.26" cy="270.09" r="1.8"/>
<circle cx="396.08" cy="267.20" r="1.8"/>
<circle cx="396.90" cy="270.00" r="1.8"/>
<circle cx="397.72" cy="274.22" r="1.8"/>
<circle cx="398.54" cy="279.98" r="1.8"/>
<circle cx="399.36" cy="285.83" r="1.8"/>
<circle cx="400.18" cy="285.17" r="1.8"/>
<circle cx="401.00" cy="280.19" r="1.8"/>
<circle cx="401.82" cy="276.03" r="1.8"/>
<circle cx="402.64" cy="274.46" r="1.8"/>
<circle cx="403.46" cy="271.33" r="1.8"/>
<circle cx="404.28" cy="267.11" r="1.8"/>
<circle cx="405.10" cy="262.73" r="1.8"/>
<circle cx="405.92" cy="260.50" r="1.8"/>
<circle cx="406.74" cy="263.82" r="1.8"/>
<circle cx="407.56" cy="270.03" r="1.8"/>
<circle cx="408.38" cy="276.48" r="1.8"/>
<circle cx="409.20" cy="282.12" r="1.8"/>
<circle cx="410.02" cy="281.94" r="1.8"/>
<circle cx="410.84" cy="277.33" r="1.8"/>
<circle cx="411.66" cy="273.56" r="1.8"/>
<circle cx="412.48" cy="270.57" r="1.8"/>
<circle cx="413.30" cy="268.31" r="1.8"/>
<circle cx="414.12" cy="265.02" r="1.8"/>
<circle cx="414.94" cy="260.95" r="1.8"/>
<circle cx="415.76" cy="259.41" r="1.8"/>
<circle cx="416.58" cy="260.65" r="1.8"/>
<circle cx="417.40" cy="267.38" r="1.8"/>
<circle cx="418.22" cy="273.47" r="1.8"/>
<circle cx="419.04" cy="279.44" r="1.8"/>
<circle cx="419.86" cy="278.57" r="1.8"/>
<circle cx="420.68" cy="275.97" r="1.8"/>
<circle cx="421.50" cy="272.23" r="1.8"/>
<circle cx="422.32" cy="268.31" r="1.8"/>
<circle cx="423.14" cy="266.89" r="1.8"/>
<circle cx="423.96" cy="263.21" r="1.8"/>
<circle cx="424.78" cy="259.93" r="1.8"/>
<circle cx="425.60" cy="257.45" r="1.8"/>
<circle cx="426.42" cy="259.50" r="1.8"/>
<circle cx="427.24" cy="265.60" r="1.8"/>
<circle cx="428.06" cy="271.78" r="1.8"/>
<circle cx="428.88" cy="277.24" r="1.8"/>
<circle cx="429.70" cy="276.39" r="1.8"/>
<circle cx="430.52" cy="272.32" r="1.8"/>
<circle cx="431.34" cy="267.86" r="1.8"/>
<circle cx="432.17" cy="263.15" r="1.8"/>
<circle cx="432.99" cy="261.50" r="1.8"/>
<circle cx="433.81" cy="258.30" r="1.8"/>
<circle cx="434.63" cy="254.38" r="1.8"/>
<circle cx="435.45" cy="253.11" r="1.8"/>
<circle cx="436.27" cy="255.31" r="1.8"/>
<circle cx="437.09" cy="259.50" r="1.8"/>
<circle cx="437.91" cy="265.72" r="1.8"/>
<circle cx="438.73" cy="270.69" r="1.8"/>
<circle cx="439.55" cy="270.21" r="1.8"/>
<circle cx="440.37" cy="265.42" r="1.8"/>
<circle cx="441.19" cy="261.01" r="1.8"/>
<circle cx="442.01" cy="258.21" r="1.8"/>
<circle cx="442.83" cy="255.04" r="1.8"/>
<circle cx="443.65" cy="253.14" r="1.8"/>
<circle cx="444.47" cy="247.65" r="1.8"/>
<circle cx="445.29" cy="246.63" r="1.8"/>
<circle cx="446.11" cy="248.19" r="1.8"/>
<circle cx="446.93" cy="252.30" r="1.8"/>
<circle cx="447.75" cy="259.66" r="1.8"/>
<circle cx="448.57" cy="263.85" r="1.8"/>
<circle cx="449.39" cy="264.78" r="1.8"/>
<circle cx="450.21" cy="259.32" r="1.8"/>
<circle cx="451.03" cy="255.92" r="1.8"/>
<circle cx="451.85" cy="251.84" r="1.8"/>
<circle cx="452.67" cy="248.22" r="1.8"/>
<circle cx="453.49" cy="245.90" r="1.8"/>
<circle cx="454.31" cy="243.79" r="1.8"/>
<circle cx="455.13" cy="241.71" r="1.8"/>
<circle cx="455.95" cy="243.04" r="1.8"/>
<circle cx="456.77" cy="246.99" r="1.8"/>
<circle cx="457.59" cy="253.50" r="1.8"/>
<circle cx="458.41" cy="259.63" r="1.8"/>
<circle cx="459.23" cy="259.20" r="1.8"/>
<circle cx="460.05" cy="255.73" r="1.8"/>
<circle cx="460.87" cy="250.97" r="1.8"/>
<circle cx="461.69" cy="248.41" r="1.8"/>
<circle cx="462.51" cy="245.90" r="1.8"/>
<circle cx="463.33" cy="244.24" r="1.8"/>
<circle cx="464.15" cy="238.85" r="1.8"/>
<circle cx="464.97" cy="237.52" r="1.8"/>
<circle cx="465.79" cy="241.02" r="1.8"/>
<circle cx="466.61" cy="244.52" r="1.8"/>
<circle cx="467.43" cy="250.40" r="1.8"/>
<circle cx="468.25" cy="257.42" r="1.8"/>
<circle cx="469.07" cy="255.64" r="1.8"/>
<circle cx="469.89" cy="250.64" r="1.8"/>
<circle cx="470.71" cy="245.06" r="1.8"/>
<circle cx="471.53" cy="242.43" r="1.8"/>
<circle cx="472.35" cy="240.02" r="1.8"/>
<circle cx="473.17" cy="236.55" r="1.8"/>
<circle cx="473.99" cy="232.09" r="1.8"/>
<circle cx="474.81" cy="229.44" r="1.8"/>
<circle cx="475.63" cy="231.06" r="1.8"/>
<circle cx="476.45" cy="234.71" r="1.8"/>
<circle cx="477.27" cy="240.59" r="1.8"/>
<circle cx="478.09" cy="245.96" r="1.8"/>
<circle cx="478.91" cy="244.94" r="1.8"/>
<circle cx="479.73" cy="241.41" r="1.8"/>
<circle cx="480.56" cy="236.55" r="1.8"/>
<circle cx="481.38" cy="233.39" r="1.8"/>
<circle cx="482.20" cy="230.70" r="1.8"/>
<circle cx="483.02" cy="228.86" r="1.8"/>
<circle cx="483.84" cy="224.91" r="1.8"/>
<circle cx="484.66" cy="225.00" r="1.8"/>
<circle cx="485.48" cy="226.99" r="1.8"/>
<circle cx="486.30" cy="229.56" r="1.8"/>
<circle cx="487.12" cy="237.25" r="1.8"/>
<circle cx="487.94" cy="243.55" r="1.8"/>
<circle cx="488.76" cy="241.86" r="1.8"/>
<circle cx="489.58" cy="237.79" r="1.8"/>
<circle cx="490.40" cy="233.63" r="1.8"/>
<circle cx="491.22" cy="230.04" r="1.8"/>
<circle cx="492.04" cy="229.28" r="1.8"/>
<circle cx="492.86" cy="226.09" r="1.8"/>
<circle cx="493.68" cy="222.41" r="1.8"/>
<circle cx="494.50" cy="223.13" r="1.8"/>
<circle cx="495.32" cy="222.77" r="1.8"/>
<circle cx="496.14" cy="228.32" r="1.8"/>
<circle cx="496.96" cy="233.54" r="1.8"/>
<circle cx="497.78" cy="236.95" r="1.8"/>
<circle cx="498.60" cy="236.85" r="1.8"/>
<circle cx="499.42" cy="232.81" r="1.8"/>
<circle cx="500.24" cy="228.89" r="1.8"/>
<circle cx="501.06" cy="226.12" r="1.8"/>
<circle cx="501.88" cy="223.34" r="1.8"/>
<circle cx="502.70" cy="220.57" r="1.8"/>
<circle cx="503.52" cy="217.73" r="1.8"/>
<circle cx="504.34" cy="216.29" r="1.8"/>
<circle cx="505.16" cy="218.22" r="1.8"/>
<circle cx="505.98" cy="223.34" r="1.8"/>
<circle cx="506.80" cy="229.07" r="1.8"/>
<circle cx="507.62" cy="233.39" r="1.8"/>
<circle cx="508.44" cy="232.57" r="1.8"/>
<circle cx="509.26" cy="228.62" r="1.8"/>
<circle cx="510.08" cy="224.16" r="1.8"/>
<circle cx="510.90" cy="220.27" r="1.8"/>
<circle cx="511.72" cy="218.25" r="1.8"/>
<circle cx="512.54" cy="215.47" r="1.8"/>
<circle cx="513.36" cy="212.76" r="1.8"/>
<circle cx="514.18" cy="210.52" r="1.8"/>
<circle cx="515.00" cy="211.25" r="1.8"/>
<circle cx="515.82" cy="215.80" r="1.8"/>
<circle cx="516.64" cy="222.32" r="1.8"/>
<circle cx="517.46" cy="225.64" r="1.8"/>
<circle cx="518.28" cy="226.24" r="1.8"/>
<circle cx="519.10" cy="221.11" r="1.8"/>
<circle cx="519.92" cy="216.47" r="1.8"/>
<circle cx="520.74" cy="213.18" r="1.8"/>
<circle cx="521.56" cy="210.89" r="1.8"/>
<circle cx="522.38" cy="208.44" r="1.8"/>
<circle cx="523.20" cy="204.58" r="1.8"/>
<circle cx="524.02" cy="201.96" r="1.8"/>
<circle cx="524.84" cy="202.92" r="1.8"/>
<circle cx="525.66" cy="207.69" r="1.8"/>
<circle cx="526.48" cy="214.69" r="1.8"/>
<circle cx="527.30" cy="218.34" r="1.8"/>
<circle cx="528.12" cy="218.40" r="1.8"/>
<circle cx="528.95" cy="213.84" r="1.8"/>
<circle cx="529.77" cy="209.83" r="1.8"/>
<circle cx="530.59" cy="206.79" r="1.8"/>
<circle cx="531.41" cy="204.16" r="1.8"/>
<circle cx="532.23" cy="201.12" r="1.8"/>
<circle cx="533.05" cy="196.68" r="1.8"/>
<circle cx="533.87" cy="195.87" r="1.8"/>
<circle cx="534.69" cy="198.67" r="1.8"/>
<circle cx="535.51" cy="205.37" r="1.8"/>
<circle cx="536.33" cy="209.77" r="1.8"/>
<circle cx="537.15" cy="215.08" r="1.8"/>
<circle cx="537.97" cy="214.45" r="1.8"/>
<circle cx="538.79" cy="209.32" r="1.8"/>
<circle cx="539.61" cy="205.25" r="1.8"/>
<circle cx="540.43" cy="202.38" r="1.8"/>
<circle cx="541.25" cy="198.55" r="1.8"/>
<circle cx="542.07" cy="195.41" r="1.8"/>
<circle cx="542.89" cy="190.83" r="1.8"/>
<circle cx="543.71" cy="190.35" r="1.8"/>
<circle cx="544.53" cy="191.07" r="1.8"/>
<circle cx="545.35" cy="195.51" r="1.8"/>
<circle cx="546.17" cy="201.54" r="1.8"/>
<circle cx="546.99" cy="207.69" r="1.8"/>
<circle cx="547.81" cy="206.79" r="1.8"/>
<circle cx="548.63" cy="202.71" r="1.8"/>
<circle cx="549.45" cy="197.41" r="1.8"/>
<circle cx="550.27" cy="193.58" r="1.8"/>
<circle cx="551.09" cy="191.13" r="1.8"/>
<circle cx="551.91" cy="189.68" r="1.8"/>
<circle cx="552.73" cy="183.83" r="1.8"/>
<circle cx="553.55" cy="182.57" r="1.8"/>
<circle cx="554.37" cy="185.52" r="1.8"/>
<circle cx="555.19" cy="190.32" r="1.8"/>
<circle cx="556.01" cy="196.50" r="1.8"/>
<circle cx="556.83" cy="201.21" r="1.8"/>
<circle cx="557.65" cy="200.36" r="1.8"/>
<circle cx="558.47" cy="197.28" r="1.8"/>
<circle cx="559.29" cy="192.25" r="1.8"/>
<circle cx="560.11" cy="189.02" r="1.8"/>
<circle cx="560.93" cy="185.97" r="1.8"/>
<circle cx="561.75" cy="183.92" r="1.8"/>
<circle cx="562.57" cy="178.13" r="1.8"/>
<circle cx="563.39" cy="177.95" r="1.8"/>
<circle cx="564.21" cy="179.34" r="1.8"/>
<circle cx="565.03" cy="184.17" r="1.8"/>
<circle cx="565.85" cy="191.74" r="1.8"/>
<circle cx="566.67" cy="194.84" r="1.8"/>
<circle cx="567.49" cy="194.36" r="1.8"/>
<circle cx="568.31" cy="190.35" r="1.8"/>
<circle cx="569.13" cy="185.82" r="1.8"/>
<circle cx="569.95" cy="181.09" r="1.8"/>
<circle cx="570.77" cy="180.18" r="1.8"/>
<circle cx="571.59" cy="179.55" r="1.8"/>
<circle cx="572.41" cy="175.99" r="1.8"/>
<circle cx="573.23" cy="171.98" r="1.8"/>
<circle cx="574.05" cy="174.33" r="1.8"/>
<circle cx="574.87" cy="178.56" r="1.8"/>
<circle cx="575.69" cy="185.40" r="1.8"/>
<circle cx="576.51" cy="188.15" r="1.8"/>
<circle cx="577.34" cy="188.72" r="1.8"/>
<circle cx="578.16" cy="185.10" r="1.8"/>
<circle cx="578.98" cy="180.97" r="1.8"/>
<circle cx="579.80" cy="176.81" r="1.8"/>
<circle cx="580.62" cy="175.18" r="1.8"/>
<circle cx="581.44" cy="171.14" r="1.8"/>
<circle cx="582.26" cy="168.93" r="1.8"/>
<circle cx="583.08" cy="167.15" r="1.8"/>
<circle cx="583.90" cy="169.15" r="1.8"/>
<circle cx="584.72" cy="173.52" r="1.8"/>
<circle cx="585.54" cy="179.31" r="1.8"/>
<circle cx="586.36" cy="183.44" r="1.8"/>
<circle cx="587.18" cy="184.38" r="1.8"/>
<circle cx="588.00" cy="179.58" r="1.8"/>
<circle cx="588.82" cy="175.36" r="1.8"/>
<circle cx="589.64" cy="171.47" r="1.8"/>
<circle cx="590.46" cy="166.97" r="1.8"/>
<circle cx="591.28" cy="164.05" r="1.8"/>
<circle cx="592.10" cy="160.16" r="1.8"/>
<circle cx="592.92" cy="158.53" r="1.8"/>
<circle cx="593.74" cy="161.09" r="1.8"/>
<circle cx="594.56" cy="166.97" r="1.8"/>
<circle cx="595.38" cy="172.55" r="1.8"/>
<circle cx="596.20" cy="177.08" r="1.8"/>
<circle cx="597.02" cy="175.90" r="1.8"/>
<circle cx="597.84" cy="171.59" r="1.8"/>
<circle cx="598.66" cy="168.21" r="1.8"/>
<circle cx="599.48" cy="163.57" r="1.8"/>
<circle cx="600.30" cy="161.97" r="1.8"/>
<circle cx="601.12" cy="159.74" r="1.8"/>
<circle cx="601.94" cy="157.78" r="1.8"/>
<circle cx="602.76" cy="154.94" r="1.8"/>
<circle cx="603.58" cy="156.30" r="1.8"/>
<circle cx="604.40" cy="160.01" r="1.8"/>
<circle cx="605.22" cy="167.19" r="1.8"/>
<circle cx="606.04" cy="170.35" r="1.8"/>
<circle cx="606.86" cy="170.59" r="1.8"/>
<circle cx="607.68" cy="166.73" r="1.8"/>
<circle cx="608.50" cy="161.97" r="1.8"/>
<circle cx="609.32" cy="158.17" r="1.8"/>
<circle cx="610.14" cy="155.94" r="1.8"/>
<circle cx="610.96" cy="154.31" r="1.8"/>
<circle cx="611.78" cy="148.94" r="1.8"/>
<circle cx="612.60" cy="147.25" r="1.8"/>
<circle cx="613.42" cy="150.36" r="1.8"/>
<circle cx="614.24" cy="154.43" r="1.8"/>
<circle cx="615.06" cy="160.37" r="1.8"/>
<circle cx="615.88" cy="164.23" r="1.8"/>
<circle cx="616.70" cy="164.41" r="1.8"/>
<circle cx="617.52" cy="158.59" r="1.8"/>
<circle cx="618.34" cy="154.49" r="1.8"/>
<circle cx="619.16" cy="150.84" r="1.8"/>
<circle cx="619.98" cy="147.07" r="1.8"/>
<circle cx="620.80" cy="145.17" r="1.8"/>
<circle cx="621.62" cy="142.21" r="1.8"/>
<circle cx="622.44" cy="138.08" r="1.8"/>
<circle cx="623.26" cy="141.61" r="1.8"/>
<circle cx="624.08" cy="145.50" r="1.8"/>
<circle cx="624.90" cy="151.89" r="1.8"/>
<circle cx="625.73" cy="157.17" r="1.8"/>
<circle cx="626.55" cy="156.42" r="1.8"/>
<circle cx="627.37" cy="152.01" r="1.8"/>
<circle cx="628.19" cy="146.95" r="1.8"/>
<circle cx="629.01" cy="143.90" r="1.8"/>
<circle cx="629.83" cy="143.42" r="1.8"/>
<circle cx="630.65" cy="138.11" r="1.8"/>
<circle cx="631.47" cy="133.26" r="1.8"/>
<circle cx="632.29" cy="132.05" r="1.8"/>
<circle cx="633.11" cy="133.65" r="1.8"/>
<circle cx="633.93" cy="140.13" r="1.8"/>
<circle cx="634.75" cy="146.37" r="1.8"/>
<circle cx="635.57" cy="151.35" r="1.8"/>
<circle cx="636.39" cy="149.39" r="1.8"/>
<circle cx="637.21" cy="145.62" r="1.8"/>
<circle cx="638.03" cy="140.70" r="1.8"/>
<circle cx="638.85" cy="137.48" r="1.8"/>
<circle cx="639.67" cy="136.57" r="1.8"/>
<circle cx="640.49" cy="132.77" r="1.8"/>
<circle cx="641.31" cy="127.52" r="1.8"/>
<circle cx="642.13" cy="125.47" r="1.8"/>
<circle cx="642.95" cy="128.97" r="1.8"/>
<circle cx="643.77" cy="133.47" r="1.8"/>
<circle cx="644.59" cy="140.64" r="1.8"/>
<circle cx="645.41" cy="144.57" r="1.8"/>
<circle cx="646.23" cy="142.57" r="1.8"/>
<circle cx="647.05" cy="136.93" r="1.8"/>
<circle cx="647.87" cy="131.84" r="1.8"/>
<circle cx="648.69" cy="129.70" r="1.8"/>
<circle cx="649.51" cy="124.99" r="1.8"/>
<circle cx="650.33" cy="122.73" r="1.8"/>
<circle cx="651.15" cy="114.95" r="1.8"/>
<circle cx="651.97" cy="114.13" r="1.8"/>
<circle cx="652.79" cy="116.82" r="1.8"/>
<circle cx="653.61" cy="124.12" r="1.8"/>
<circle cx="654.43" cy="130.57" r="1.8"/>
<circle cx="655.25" cy="134.25" r="1.8"/>
<circle cx="656.07" cy="132.62" r="1.8"/>
<circle cx="656.89" cy="126.71" r="1.8"/>
<circle cx="657.71" cy="124.00" r="1.8"/>
<circle cx="658.53" cy="118.81" r="1.8"/>
<circle cx="659.35" cy="117.93" r="1.8"/>
<circle cx="660.17" cy="115.64" r="1.8"/>
<circle cx="660.99" cy="110.15" r="1.8"/>
<circle cx="661.81" cy="108.19" r="1.8"/>
<circle cx="662.63" cy="110.64" r="1.8"/>
<circle cx="663.45" cy="115.94" r="1.8"/>
<circle cx="664.27" cy="121.95" r="1.8"/>
<circle cx="665.09" cy="127.25" r="1.8"/>
<circle cx="665.91" cy="126.47" r="1.8"/>
<circle cx="666.73" cy="121.98" r="1.8"/>
<circle cx="667.55" cy="116.88" r="1.8"/>
<circle cx="668.37" cy="113.41" r="1.8"/>
<circle cx="669.19" cy="112.32" r="1.8"/>
<circle cx="670.01" cy="109.04" r="1.8"/>
<circle cx="670.83" cy="106.53" r="1.8"/>
<circle cx="671.65" cy="103.52" r="1.8"/>
<circle cx="672.47" cy="104.87" r="1.8"/>
<circle cx="673.29" cy="111.15" r="1.8"/>
<circle cx="674.12" cy="116.34" r="1.8"/>
<circle cx="674.94" cy="120.80" r="1.8"/>
<circle cx="675.76" cy="119.32" r="1.8"/>
<circle cx="676.58" cy="113.23" r="1.8"/>
<circle cx="677.40" cy="110.06" r="1.8"/>
<circle cx="678.22" cy="104.75" r="1.8"/>
<circle cx="679.04" cy="101.98" r="1.8"/>
<circle cx="679.86" cy="101.32" r="1.8"/>
<circle cx="680.68" cy="97.24" r="1.8"/>
<circle cx="681.50" cy="93.20" r="1.8"/>
<circle cx="682.32" cy="95.43" r="1.8"/>
<circle cx="683.14" cy="101.92" r="1.8"/>
<circle cx="683.96" cy="107.41" r="1.8"/>
<circle cx="684.78" cy="111.66" r="1.8"/>
<circle cx="685.60" cy="111.69" r="1.8"/>
<circle cx="686.42" cy="106.44" r="1.8"/>
<circle cx="687.24" cy="101.95" r="1.8"/>
<circle cx="688.06" cy="96.91" r="1.8"/>
<circle cx="688.88" cy="94.71" r="1.8"/>
<circle cx="689.70" cy="93.50" r="1.8"/>
<circle cx="690.52" cy="88.35" r="1.8"/>
<circle cx="691.34" cy="85.75" r="1.8"/>
<circle cx="692.16" cy="87.89" r="1.8"/>
<circle cx="692.98" cy="93.87" r="1.8"/>
<circle cx="693.80" cy="99.42" r="1.8"/>
<circle cx="694.62" cy="103.22" r="1.8"/>
<circle cx="695.44" cy="103.25" r="1.8"/>
<circle cx="696.26" cy="98.39" r="1.8"/>
<circle cx="697.08" cy="94.95" r="1.8"/>
<circle cx="697.90" cy="91.15" r="1.8"/>
<circle cx="698.72" cy="87.44" r="1.8"/>
<circle cx="699.54" cy="84.76" r="1.8"/>
<circle cx="700.36" cy="80.51" r="1.8"/>
<circle cx="701.18" cy="80.26" r="1.8"/>
<circle cx="702.00" cy="80.84" r="1.8"/>
<circle cx="702.82" cy="86.81" r="1.8"/>
<circle cx="703.64" cy="94.32" r="1.8"/>
<circle cx="704.46" cy="97.85" r="1.8"/>
<circle cx="705.28" cy="95.95" r="1.8"/>
<circle cx="706.10" cy="92.69" r="1.8"/>
<circle cx="706.92" cy="87.56" r="1.8"/>
<circle cx="707.74" cy="83.10" r="1.8"/>
<circle cx="708.56" cy="79.81" r="1.8"/>
<circle cx="709.38" cy="81.23" r="1.8"/>
<circle cx="710.20" cy="76.95" r="1.8"/>
<circle cx="711.02" cy="74.65" r="1.8"/>
<circle cx="711.84" cy="74.65" r="1.8"/>
<circle cx="712.66" cy="80.96" r="1.8"/>
<circle cx="713.48" cy="86.11" r="1.8"/>
<circle cx="714.30" cy="89.85" r="1.8"/>
<circle cx="715.12" cy="90.37" r="1.8"/>
<circle cx="715.94" cy="86.54" r="1.8"/>
<circle cx="720.04" cy="67.51" r="1.8"/>
<circle cx="720.86" cy="65.58" r="1.8"/>
<circle cx="721.68" cy="66.54" r="1.8"/>
<circle cx="722.51" cy="72.12" r="1.8"/>
<circle cx="723.33" cy="78.61" r="1.8"/>
<circle cx="724.15" cy="82.13" r="1.8"/>
<circle cx="724.97" cy="81.20" r="1.8"/>
<circle cx="725.79" cy="76.25" r="1.8"/>
<circle cx="726.61" cy="72.03" r="1.8"/>
<circle cx="727.43" cy="69.20" r="1.8"/>
<circle cx="728.25" cy="63.92" r="1.8"/>
<circle cx="729.07" cy="61.41" r="1.8"/>
<circle cx="729.89" cy="57.82" r="1.8"/>
<circle cx="730.71" cy="56.83" r="1.8"/>
<circle cx="731.53" cy="56.80" r="1.8"/>
<circle cx="732.35" cy="60.90" r="1.8"/>
<circle cx="733.17" cy="68.62" r="1.8"/>
<circle cx="733.99" cy="71.52" r="1.8"/>
<circle cx="734.81" cy="70.46" r="1.8"/>
</g><g fill="#2a50b4">
<circle cx="716.76" cy="82.16" r="2.0"/>
<circle cx="717.58" cy="80.51" r="2.0"/>
<circle cx="718.40" cy="78.09" r="2.0"/>
<circle cx="719.22" cy="75.83" r="2.0"/>
</g>
<text y="12.75" font-family="'Liberation Sans', Arial, Helvetica, sans-serif" font-weight="bold" font-size="21.4" style="font-kerning:none"><tspan x="67.5" textLength="81.2" lengthAdjust="spacingAndGlyphs">Monthly</tspan> <tspan x="155.2" textLength="87.5" lengthAdjust="spacingAndGlyphs">Average</tspan> <tspan x="248.6">Carbon</tspan> <tspan x="328.6">Dioxide</tspan> <tspan x="413.2" textLength="146.4" lengthAdjust="spacingAndGlyphs">Concentration</tspan></text>
<text x="67.6" y="26.9" font-family="'Liberation Sans', Arial, Helvetica, sans-serif" font-size="11.93">Data from Scripps CO<tspan x="184.5" font-size="8.4" dy="2">2</tspan><tspan font-size="1" dy="-2"> </tspan><tspan x="192.8" font-size="11.8">Program</tspan></text>
<text x="248.2" y="26.9" font-family="'Liberation Sans', Arial, Helvetica, sans-serif" font-size="11.9">Last updated December 2024</text>
<text x="87.5" y="61" font-family="'Liberation Sans', Arial, Helvetica, sans-serif" font-weight="bold" font-size="12.4" fill="#1d42a2">*Maunakea data in blue</text>
<text transform="translate(63.3 416.30) scale(1 1.06)" text-anchor="end" font-family="'Liberation Sans', Arial, Helvetica, sans-serif" font-weight="bold" font-size="15.9">310</text>
<text transform="translate(63.3 386.14) scale(1 1.06)" text-anchor="end" font-family="'Liberation Sans', Arial, Helvetica, sans-serif" font-weight="bold" font-size="15.9">320</text>
<text transform="translate(63.3 355.98) scale(1 1.06)" text-anchor="end" font-family="'Liberation Sans', Arial, Helvetica, sans-serif" font-weight="bold" font-size="15.9">330</text>
<text transform="translate(63.3 325.82) scale(1 1.06)" text-anchor="end" font-family="'Liberation Sans', Arial, Helvetica, sans-serif" font-weight="bold" font-size="15.9">340</text>
<text transform="translate(63.3 295.66) scale(1 1.06)" text-anchor="end" font-family="'Liberation Sans', Arial, Helvetica, sans-serif" font-weight="bold" font-size="15.9">350</text>
<text transform="translate(63.3 265.50) scale(1 1.06)" text-anchor="end" font-family="'Liberation Sans', Arial, Helvetica, sans-serif" font-weight="bold" font-size="15.9">360</text>
<text transform="translate(63.3 235.34) scale(1 1.06)" text-anchor="end" font-family="'Liberation Sans', Arial, Helvetica, sans-serif" font-weight="bold" font-size="15.9">370</text>
<text transform="translate(63.3 205.18) scale(1 1.06)" text-anchor="end" font-family="'Liberation Sans', Arial, Helvetica, sans-serif" font-weight="bold" font-size="15.9">380</text>
<text transform="translate(63.3 175.02) scale(1 1.06)" text-anchor="end" font-family="'Liberation Sans', Arial, Helvetica, sans-serif" font-weight="bold" font-size="15.9">390</text>
<text transform="translate(63.3 144.86) scale(1 1.06)" text-anchor="end" font-family="'Liberation Sans', Arial, Helvetica, sans-serif" font-weight="bold" font-size="15.9">400</text>
<text transform="translate(63.3 114.70) scale(1 1.06)" text-anchor="end" font-family="'Liberation Sans', Arial, Helvetica, sans-serif" font-weight="bold" font-size="15.9">410</text>
<text transform="translate(63.3 84.54) scale(1 1.06)" text-anchor="end" font-family="'Liberation Sans', Arial, Helvetica, sans-serif" font-weight="bold" font-size="15.9">420</text>
<text transform="translate(63.3 54.38) scale(1 1.06)" text-anchor="end" font-family="'Liberation Sans', Arial, Helvetica, sans-serif" font-weight="bold" font-size="15.9">430</text>
<text transform="translate(97.13 424.0) scale(1 1.06)" text-anchor="middle" font-family="'Liberation Sans', Arial, Helvetica, sans-serif" font-weight="bold" font-size="14">1960</text>
<text transform="translate(146.34 424.0) scale(1 1.06)" text-anchor="middle" font-family="'Liberation Sans', Arial, Helvetica, sans-serif" font-weight="bold" font-size="14">1965</text>
<text transform="translate(195.55 424.0) scale(1 1.06)" text-anchor="middle" font-family="'Liberation Sans', Arial, Helvetica, sans-serif" font-weight="bold" font-size="14">1970</text>
<text transform="translate(244.76 424.0) scale(1 1.06)" text-anchor="middle" font-family="'Liberation Sans', Arial, Helvetica, sans-serif" font-weight="bold" font-size="14">1975</text>
<text transform="translate(293.97 424.0) scale(1 1.06)" text-anchor="middle" font-family="'Liberation Sans', Arial, Helvetica, sans-serif" font-weight="bold" font-size="14">1980</text>
<text transform="translate(343.18 424.0) scale(1 1.06)" text-anchor="middle" font-family="'Liberation Sans', Arial, Helvetica, sans-serif" font-weight="bold" font-size="14">1985</text>
<text transform="translate(392.39 424.0) scale(1 1.06)" text-anchor="middle" font-family="'Liberation Sans', Arial, Helvetica, sans-serif" font-weight="bold" font-size="14">1990</text>
<text transform="translate(441.60 424.0) scale(1 1.06)" text-anchor="middle" font-family="'Liberation Sans', Arial, Helvetica, sans-serif" font-weight="bold" font-size="14">1995</text>
<text transform="translate(490.81 424.0) scale(1 1.06)" text-anchor="middle" font-family="'Liberation Sans', Arial, Helvetica, sans-serif" font-weight="bold" font-size="14">2000</text>
<text transform="translate(540.02 424.0) scale(1 1.06)" text-anchor="middle" font-family="'Liberation Sans', Arial, Helvetica, sans-serif" font-weight="bold" font-size="14">2005</text>
<text transform="translate(589.23 424.0) scale(1 1.06)" text-anchor="middle" font-family="'Liberation Sans', Arial, Helvetica, sans-serif" font-weight="bold" font-size="14">2010</text>
<text transform="translate(638.44 424.0) scale(1 1.06)" text-anchor="middle" font-family="'Liberation Sans', Arial, Helvetica, sans-serif" font-weight="bold" font-size="14">2015</text>
<text transform="translate(687.65 424.0) scale(1 1.06)" text-anchor="middle" font-family="'Liberation Sans', Arial, Helvetica, sans-serif" font-weight="bold" font-size="14">2020</text>
<text transform="translate(736.86 424.0) scale(1 1.06)" text-anchor="middle" font-family="'Liberation Sans', Arial, Helvetica, sans-serif" font-weight="bold" font-size="14">2025</text>
<text transform="translate(22.9 350.4) rotate(-90)" font-family="'Liberation Sans', Arial, Helvetica, sans-serif" font-weight="bold" font-size="21.4" word-spacing="1.4">CO<tspan font-size="16" dy="4">2</tspan><tspan dy="-4"> Concentration (ppm)</tspan></text>
<text y="382.7" font-family="'Liberation Serif', 'Times New Roman', serif" font-size="12" fill="#182b49"><tspan x="577.5" textLength="11.1" lengthAdjust="spacingAndGlyphs">UC</tspan><tspan font-size="1"> </tspan><tspan x="590.1" textLength="15.2" lengthAdjust="spacingAndGlyphs">San</tspan><tspan font-size="1"> </tspan><tspan x="607.3" textLength="20.8" lengthAdjust="spacingAndGlyphs">Diego</tspan></text>
<rect x="578" y="383.9" width="50" height="0.6" fill="#e3d9b0"/>
<rect x="635.1" y="369.5" width="0.8" height="19.5" fill="#e0e0e0"/>
<defs><radialGradient id="gl" cx="0.42" cy="0.45" r="0.62"><stop offset="0" stop-color="#2a8be0"/><stop offset="0.55" stop-color="#1c62b8"/><stop offset="0.85" stop-color="#1b3484"/><stop offset="1" stop-color="#1a2466"/></radialGradient></defs>
<circle cx="650.4" cy="379" r="7" fill="url(#gl)"/>
<path d="M647.3 376.2c0.9-1 2.4-1.5 3.8-1.3c0.5 0.5 0.2 1.3-0.4 1.8c-0.4 0.5-0.3 1.1-0.9 1.5c-0.5 0.3-0.7 1-0.3 1.4l0.9 0.5c-0.7 0.1-1.4-0.3-1.8-0.9c-0.5-0.9-1.1-1.9-1.3-3z" fill="#63c4b4"/>
<path d="M650.6 379.8c1-0.4 2.3 0 3 0.8c0.4 0.8 0 1.8-0.5 2.5c-0.5 0.8-0.9 1.7-1.7 2.1c-0.5-0.9-0.4-2-0.6-3c-0.2-0.8-0.6-1.6-0.2-2.4z" fill="#58b482"/>
<text x="659.2" y="379.0" font-family="'Liberation Serif', 'Times New Roman', serif" fill="#283452" textLength="30.8" lengthAdjust="spacingAndGlyphs"><tspan font-size="9.6">S</tspan><tspan font-size="7.4">CRIPPS</tspan></text>
<text x="692.0" y="378.1" font-family="'Liberation Sans', Arial, Helvetica, sans-serif" font-size="2.9" fill="#283452" textLength="30" lengthAdjust="spacing">INSTITUTION OF</text>
<text x="659.2" y="385.5" font-family="'Liberation Serif', 'Times New Roman', serif" font-size="7.6" fill="#283452" textLength="62.6" lengthAdjust="spacingAndGlyphs">OCEANOGRAPHY</text>
</svg>
</body></html>
